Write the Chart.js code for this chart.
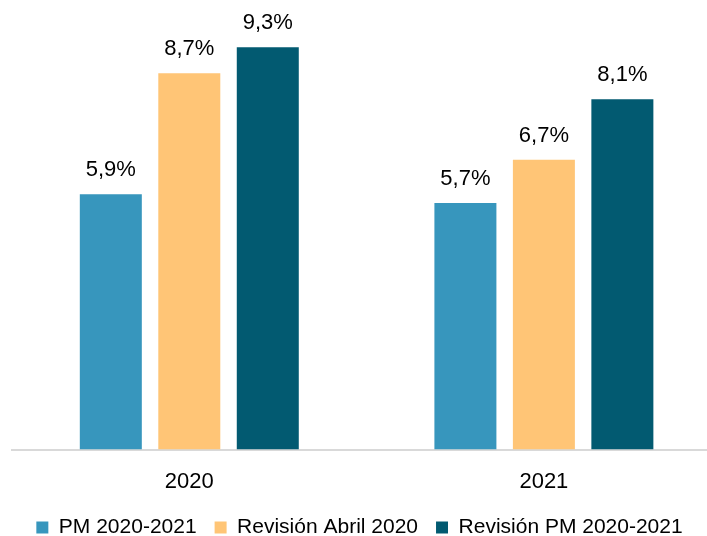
<!DOCTYPE html>
<html>
<head>
<meta charset="utf-8">
<script src="https://cdn.jsdelivr.net/npm/chart.js@4.4.1/dist/chart.umd.min.js"></script>
<style>
  html, body { margin: 0; padding: 0; background: #fff; }
  #wrap { width: 707px; height: 536px; }
</style>
</head>
<body>
<div id="wrap"><canvas id="myChart"></canvas></div>
<script>
// data
var categories = ["2020", "2021"];
var seriesNames = ["PM 2020-2021", "Revisión Abril 2020", "Revisión PM 2020-2021"];
var pm2020 = [5.9, 5.7];
var revAbril = [8.7, 6.7];
var revPM = [9.3, 8.1];
var colors = ["#3796bd", "#ffc576", "#025a71"];

function toPoints(vals){
  return vals.map(function(v, i){ return {x: i, y: v}; });
}

// value labels above the bars, es-ES style "5,9%"
var barLabels = {
  id: "barLabels",
  afterDatasetsDraw: function(chart){
    var ctx = chart.ctx;
    ctx.save();
    ctx.font = "22px 'Liberation Sans', Arial, sans-serif";
    ctx.fillStyle = "#000";
    ctx.textAlign = "center";
    ctx.textBaseline = "middle";
    chart.data.datasets.forEach(function(ds, di){
      var meta = chart.getDatasetMeta(di);
      meta.data.forEach(function(bar, i){
        var txt = ds.data[i].y.toFixed(1).replace(".", ",") + "%";
        ctx.fillText(txt, bar.x, bar.y - 24);
      });
    });
    ctx.restore();
  }
};

function init_graph(){
  const ctx = document.getElementById("myChart");
  new Chart(ctx, {
    type: "bar",
    data: {
      datasets: [
        { label: seriesNames[0], data: toPoints(pm2020), backgroundColor: colors[0] },
        { label: seriesNames[1], data: toPoints(revAbril), backgroundColor: colors[1] },
        { label: seriesNames[2], data: toPoints(revPM), backgroundColor: colors[2] }
      ]
    },
    options: {
      responsive: true,
      maintainAspectRatio: false,
      animation: false,
      layout: { padding: { left: 12, right: 0, top: 17, bottom: -12 } },
      datasets: { bar: { categoryPercentage: 0.664, barPercentage: 0.79 } },
      scales: {
        x: {
          type: "linear",
          offset: false,
          min: -0.5,
          max: 1.46,
          afterBuildTicks: function(axis){
            axis.ticks = categories.map(function(c, i){ return {value: i}; });
          },
          afterFit: function(axis){
            axis.height -= 7;
          },
          ticks: {
            callback: function(v){ return categories[v]; },
            font: { family: "'Liberation Sans', Arial, sans-serif", size: 22 },
            color: "#000",
            padding: 11
          },
          grid: { display: false },
          border: { color: "#d9d9d9", width: 2 }
        },
        y: {
          display: false,
          min: 0,
          max: 10
        }
      },
      plugins: {
        tooltip: { enabled: false },
        legend: {
          position: "bottom",
          labels: {
            boxWidth: 12,
            boxHeight: 12,
            padding: 18,
            color: "#000",
            font: { family: "'Liberation Sans', Arial, sans-serif", size: 21 }
          }
        }
      }
    },
    plugins: [barLabels]
  });
}

init_graph();
</script>
</body>
</html>
